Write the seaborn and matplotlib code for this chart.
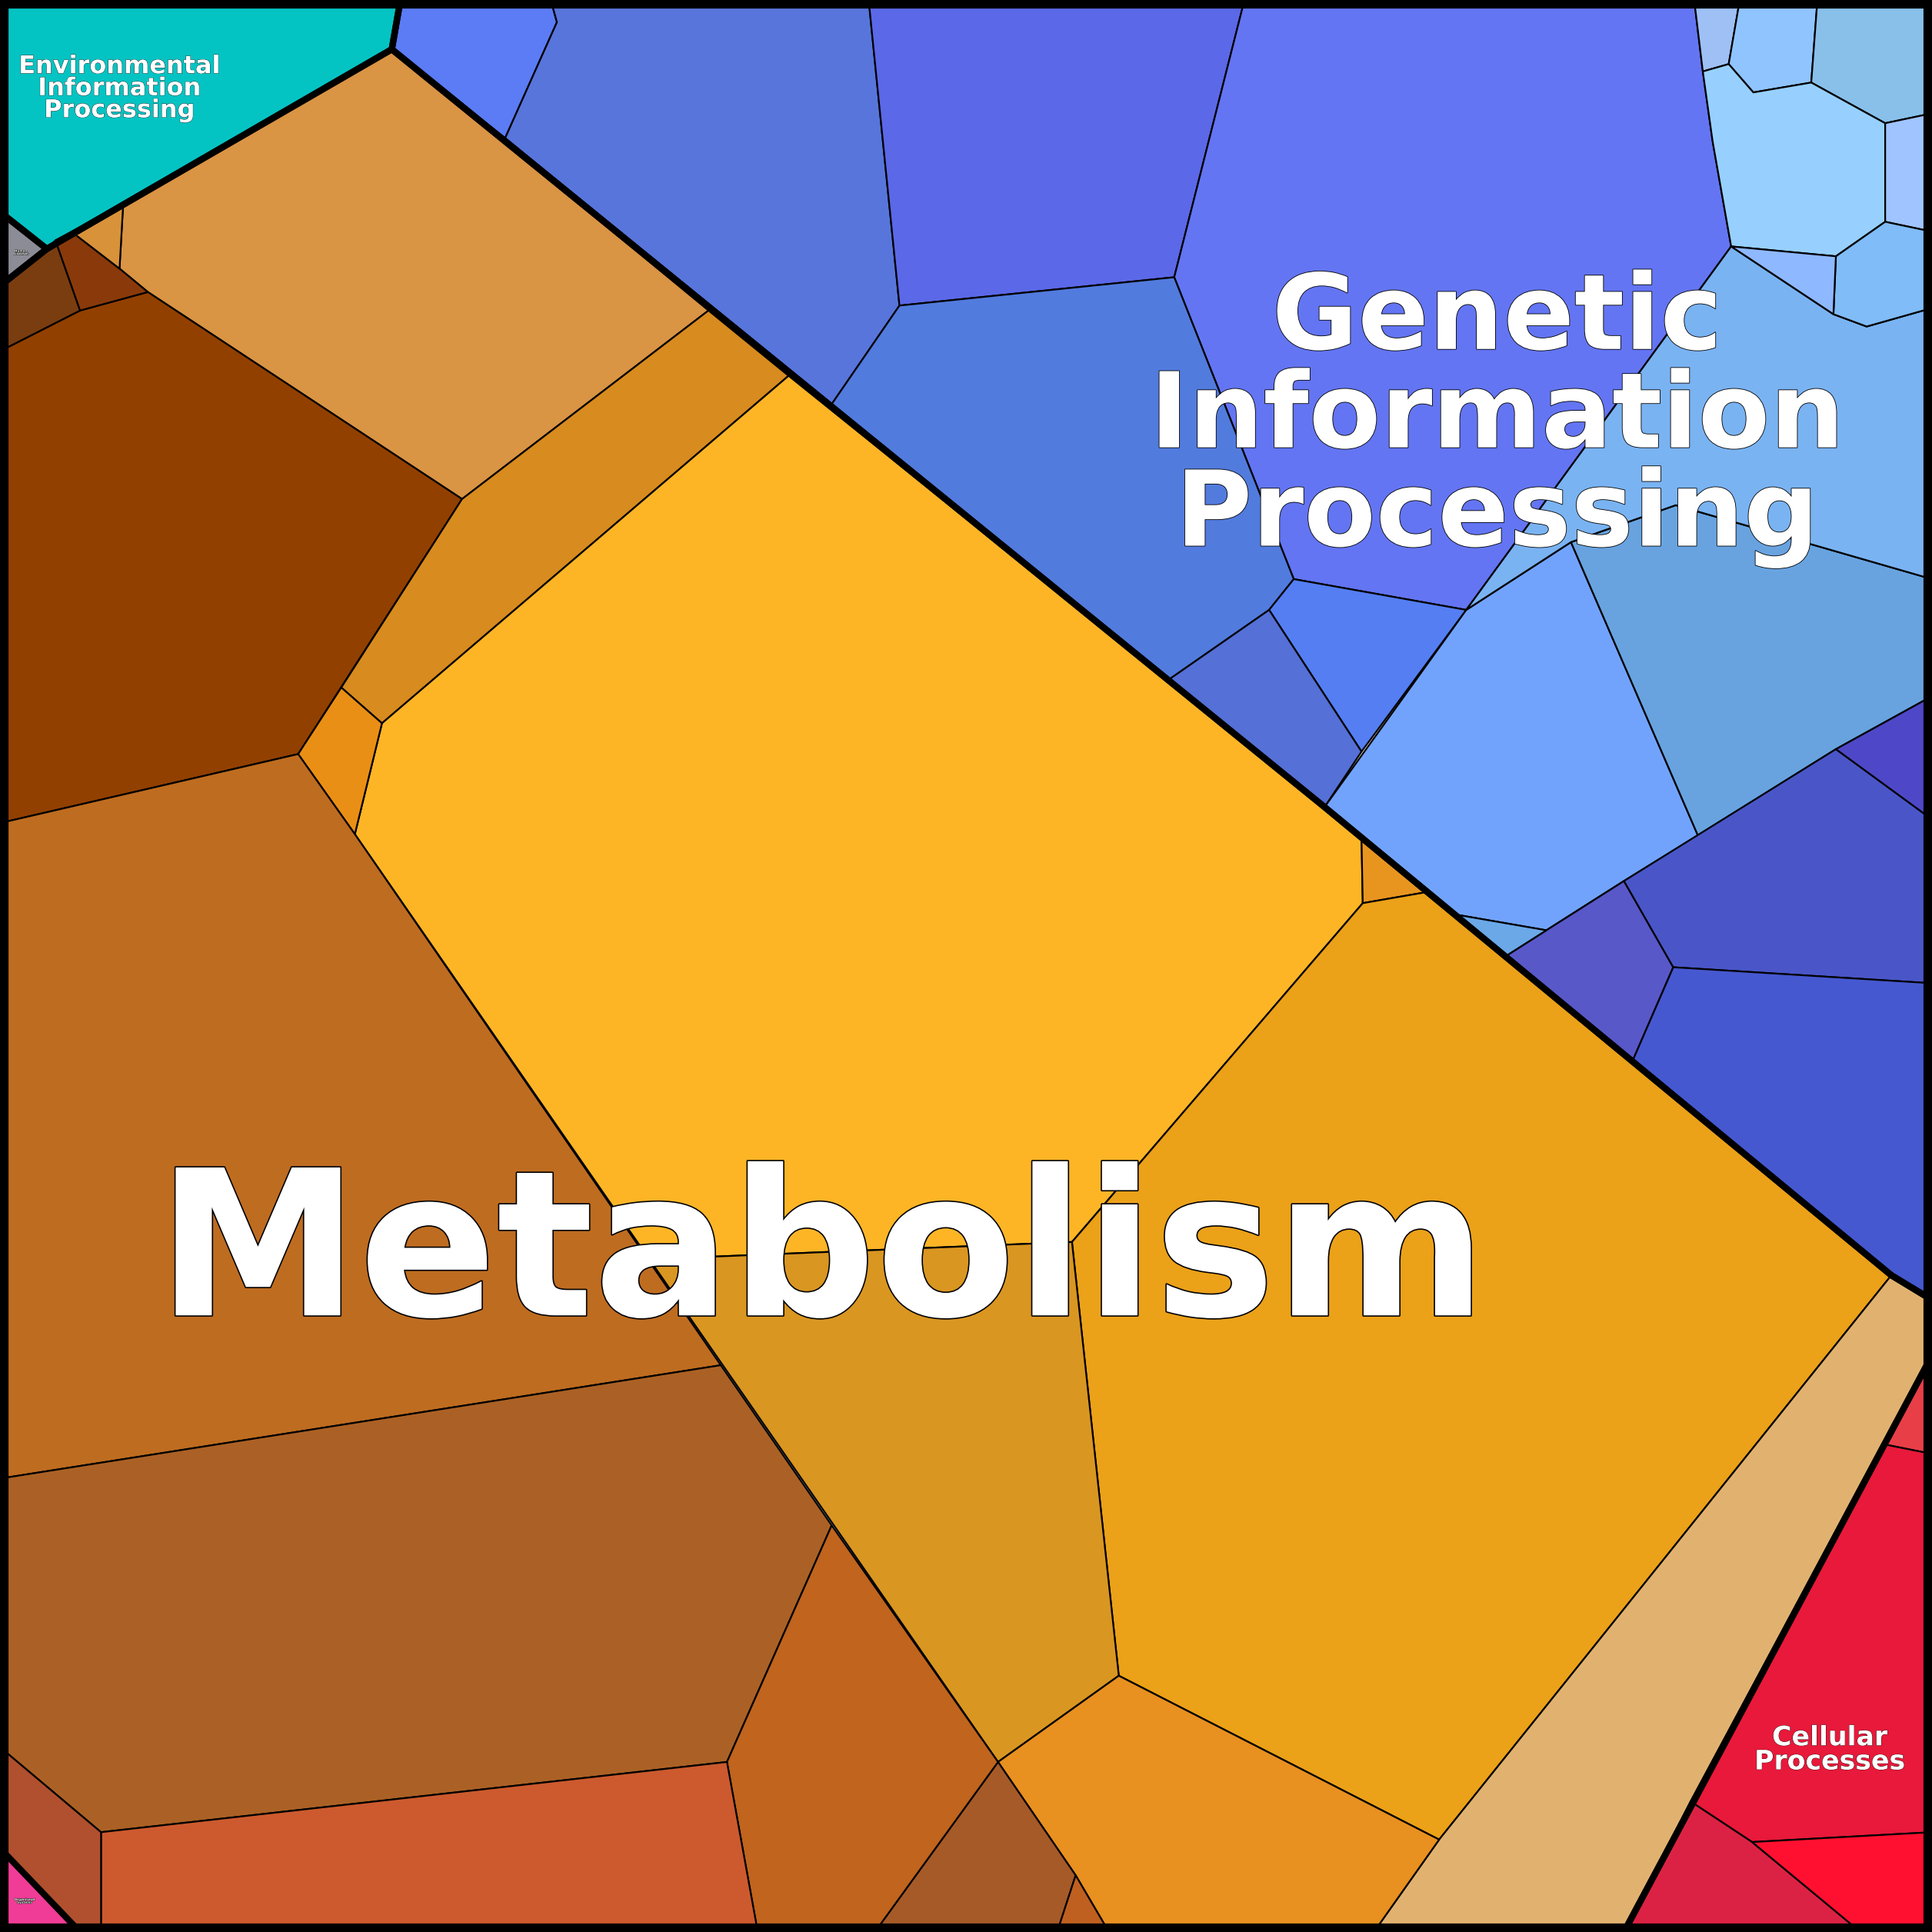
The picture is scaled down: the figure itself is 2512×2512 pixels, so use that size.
import matplotlib
matplotlib.use("Agg")
import matplotlib.pyplot as plt
import matplotlib.patheffects as pe
import seaborn as sns

sns.set_theme(style="white")
plt.rcParams['font.family'] = ['DejaVu Sans']

# ---- data: Voronoi treemap cells (vertices, 0..1568 scale) ----
cell_colors = [
    "#04C4C3", "#8C8C96",
    # Metabolism
    "#D99444", "#924000", "#7A3D10", "#8A3A0A", "#D88B1E", "#FDB526", "#EA8F15", "#E89520",
    "#EBA118", "#E1B26F", "#D99621", "#E89020", "#A65A28", "#C06020", "#BE6C20", "#AB6125",
    "#C0641E", "#CC5A2E", "#B0502E", "#F03C96", "#D8923A",
    # Genetic Information Processing
    "#5B7CF5", "#5875DB", "#5B68E8", "#6375F2", "#527BDE", "#547EF2", "#5570D6", "#72A3FC",
    "#68A3E0", "#7AB3F2", "#9EC0F5", "#90C4FF", "#88C0EA", "#97D0FF", "#A0C4FF", "#80BCF8",
    "#8EB8FF", "#5858C8", "#4A56C8", "#4E48C8", "#4658D0", "#6BA8E8",
    # Cellular Processes
    "#E83E48", "#E8193A", "#DC2244", "#FF1030",
]
cell_polys = [
    [(0,0),(325,0),(318,40),(38,202),(0,172)],
    [(0,172),(38,202),(0,232)],
    [(100,165),(318,40),(575,252),(375,405),(120,237),(97,218)],
    [(0,285),(65,252),(120,237),(375,405),(242,612),(0,668)],
    [(0,232),(38,202),(45,195),(65,252),(0,285)],
    [(45,195),(58,188),(97,218),(120,237),(65,252)],
    [(375,405),(575,252),(640,305),(310,587),(277,558)],
    [(310,587),(640,305),(1075,655),(1105,680),(1106,733),(870,1008),(527,1022),(288,677)],
    [(242,612),(277,558),(310,587),(288,677)],
    [(1105,680),(1158,724),(1106,733)],
    [(1106,733),(1158,724),(1535,1035),(1168,1493),(908,1360),(870,1008)],
    [(1535,1035),(1568,1055),(1568,1100),(1318,1568),(1115,1568),(1168,1493)],
    [(527,1022),(870,1008),(908,1360),(810,1430)],
    [(810,1430),(908,1360),(1168,1493),(1115,1568),(900,1568),(873,1522)],
    [(710,1568),(810,1430),(873,1522),(858,1568)],
    [(858,1568),(873,1522),(900,1568)],
    [(0,668),(242,612),(288,677),(585,1108),(0,1200)],
    [(0,1200),(585,1108),(675,1238),(590,1430),(82,1487),(0,1418)],
    [(675,1238),(810,1430),(710,1568),(615,1568),(590,1430)],
    [(82,1487),(590,1430),(615,1568),(82,1568)],
    [(0,1418),(82,1487),(82,1568),(65,1568),(0,1500)],
    [(0,1500),(65,1568),(0,1568)],
    [(58,188),(100,165),(97,218)],
    [(325,0),(447,0),(452,18),(410,112),(318,40)],
    [(447,0),(705,0),(730,248),(675,328),(410,112),(452,18)],
    [(705,0),(1010,0),(953,225),(730,248)],
    [(1010,0),(1375,0),(1382,58),(1390,115),(1405,200),(1190,495),(1050,470),(953,225)],
    [(730,248),(953,225),(1050,470),(1030,495),(948,552),(675,328)],
    [(1050,470),(1190,495),(1105,610),(1030,495)],
    [(948,552),(1030,495),(1105,610),(1075,655)],
    [(1075,655),(1190,495),(1275,440),(1378,678),(1318,715),(1255,755),(1180,742)],
    [(1275,440),(1360,410),(1568,470),(1568,565),(1490,608),(1378,678)],
    [(1405,200),(1488,255),(1515,265),(1568,250),(1568,470),(1360,410),(1275,440),(1190,495)],
    [(1375,0),(1412,0),(1403,52),(1382,58)],
    [(1412,0),(1475,0),(1470,67),(1423,75),(1403,52)],
    [(1475,0),(1568,0),(1568,92),(1530,100),(1470,67)],
    [(1382,58),(1403,52),(1423,75),(1470,67),(1530,100),(1530,180),(1490,208),(1405,200),(1390,115)],
    [(1530,100),(1568,92),(1568,188),(1530,180)],
    [(1490,208),(1530,180),(1568,188),(1568,250),(1515,265),(1488,255)],
    [(1405,200),(1490,208),(1488,255)],
    [(1222,776),(1318,715),(1358,785),(1325,861)],
    [(1318,715),(1490,608),(1568,665),(1568,798),(1358,785)],
    [(1490,608),(1568,565),(1568,665)],
    [(1325,861),(1358,785),(1568,798),(1568,1055),(1535,1035)],
    [(1180,742),(1255,755),(1222,776)],
    [(1568,1100),(1528,1172),(1568,1180)],
    [(1528,1172),(1568,1180),(1568,1487),(1422,1495),(1372,1462)],
    [(1372,1462),(1422,1495),(1510,1568),(1318,1568)],
    [(1422,1495),(1568,1487),(1568,1568),(1510,1568)],
]
group_polys = [
    [(0,0),(325,0),(318,40),(38,202),(0,172)],
    [(0,172),(38,202),(0,232)],
    [(38,202),(318,40),(1075,655),(1535,1035),(1568,1055),(1568,1100),(1318,1568),(65,1568),(0,1500),(0,232)],
    [(325,0),(1568,0),(1568,1055),(1535,1035),(1075,655),(318,40)],
    [(1568,1100),(1318,1568),(1568,1568)],
]
labels = ["Metabolism", "Genetic\nInformation\nProcessing", "Environmental\nInformation\nProcessing",
          "Cellular\nProcesses", "Human\nDiseases", "Organismal\nSystems"]
label_pos = [(667, 1022), (1215, 340), (97, 72), (1485, 1420), (17, 205), (20, 1543)]
label_size = [190, 98, 23, 25, 3, 3]
label_spacing = [1.0, 0.97, 0.9, 0.9, 0.9, 0.9]

fig = plt.figure(figsize=(25.12, 25.12), dpi=100)
ax = fig.add_axes([0, 0, 1, 1])
for poly, c in zip(cell_polys, cell_colors):
    xs, ys = zip(*poly)
    ax.fill(xs, ys, color=c, ec="black", lw=1.6, joinstyle="round")
for poly in group_polys:
    xs, ys = zip(*poly)
    ax.fill(xs, ys, fill=False, ec="black", lw=6, joinstyle="round")
for t, (x, y), s, ls in zip(labels, label_pos, label_size, label_spacing):
    ax.text(x, y, t, ha="center", va="center", fontsize=s, fontweight="bold", color="white",
            linespacing=ls,
            path_effects=[pe.withStroke(linewidth=max(0.5, s / 80), foreground="black")])
ax.set_xlim(0, 1568)
ax.set_ylim(1568, 0)
ax.set_axis_off()
ax.add_patch(plt.Rectangle((0, 0), 1568, 1568, fill=False, ec="black", lw=16))
fig.savefig("out.png", dpi=100)
